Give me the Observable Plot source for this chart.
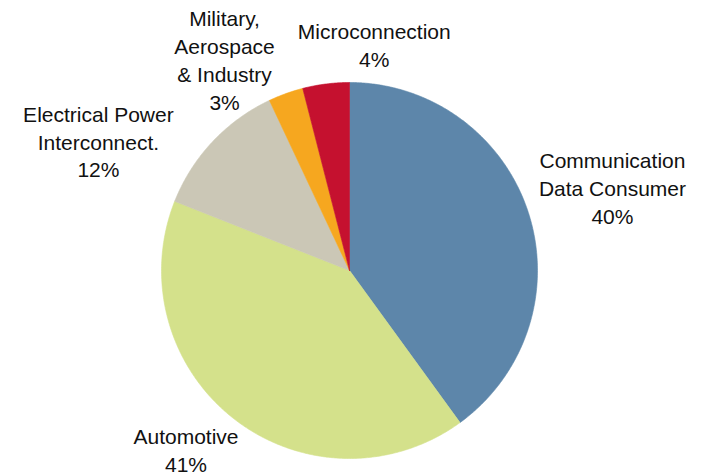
<!DOCTYPE html>
<html>
<head>
<meta charset="utf-8">
<script src="https://cdn.jsdelivr.net/npm/d3@7"></script>
<script src="https://cdn.jsdelivr.net/npm/@observablehq/plot@0.6"></script>
<style>
  html, body { margin: 0; padding: 0; background: #fff; }
  #chart svg { display: block; }
</style>
</head>
<body>
<div id="chart"></div>
<script>
// Market segments, clockwise from 12 o'clock
const segments = [
  "Communication\nData Consumer",
  "Automotive",
  "Electrical Power\nInterconnect.",
  "Military,\nAerospace\n& Industry",
  "Microconnection"
];
const shares = [40, 41, 12, 3, 4];
const colors = ["#5d86aa", "#d4e18b", "#cbc7b6", "#f6a71f", "#c5112f"];

// Label placement: distance from centre (in radii) and angular nudge (degrees) from the slice's mid-angle
const labelRadius = [1.465, 1.297, 1.499, 1.298, 1.2];
const labelNudge = [0.7, 4.3, -16.2, -11, 13.5];

const W = 702, H = 475;
const cx = 349, cy = 270, R = 188; // pie centre and radius in pixels
const font = "'Liberation Sans', Arial, Helvetica, sans-serif";

const slices = segments.map((name, i) => ({name, value: shares[i]}));
const arcs = d3.pie().sort(null).value(d => d.value)(slices);

// Polygon outline of each slice in unit-circle coordinates (y up)
const outline = arcs.flatMap(a => {
  const n = Math.max(2, Math.ceil((a.endAngle - a.startAngle) / (Math.PI / 360)));
  const pts = [{name: a.data.name, x: 0, y: 0}];
  for (let k = 0; k <= n; ++k) {
    const t = a.startAngle + (a.endAngle - a.startAngle) * k / n;
    pts.push({name: a.data.name, x: Math.sin(t), y: Math.cos(t)});
  }
  pts.push({name: a.data.name, x: 0, y: 0});
  return pts;
});

const labels = arcs.map((a, i) => {
  const t = (a.startAngle + a.endAngle) / 2 + labelNudge[i] * Math.PI / 180;
  return {
    text: `${a.data.name}\n${a.data.value}%`,
    x: labelRadius[i] * Math.sin(t),
    y: labelRadius[i] * Math.cos(t)
  };
});

const chart = Plot.plot({
  width: W,
  height: H,
  margin: 0,
  x: {domain: [-cx / R, (W - cx) / R], axis: null},
  y: {domain: [-(H - cy) / R, cy / R], axis: null},
  color: {domain: segments, range: colors},
  style: {fontFamily: font, background: "#fff"},
  marks: [
    Plot.line(outline, {x: "x", y: "y", z: "name", fill: "name", stroke: "name", strokeWidth: 0.6}),
    Plot.text(labels, {
      x: "x", y: "y", text: "text",
      fontFamily: font, fontSize: 21, lineHeight: 1.333, fill: "#111",
      textAnchor: "middle", lineAnchor: "middle", dy: -2
    })
  ]
});

document.getElementById("chart").append(chart);
</script>
</body>
</html>
